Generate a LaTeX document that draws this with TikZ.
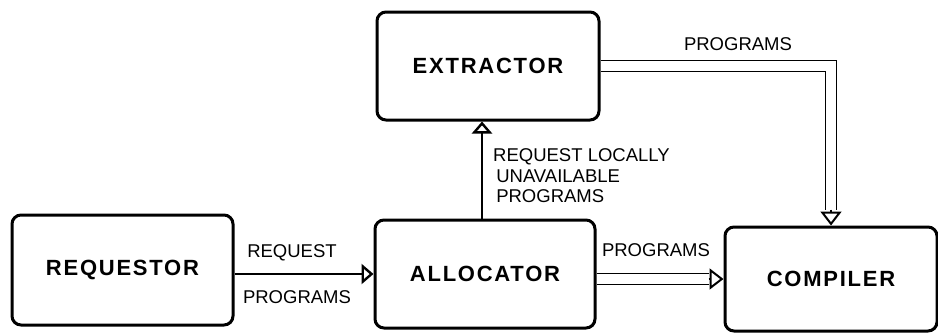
\documentclass[tikz,border=0pt]{standalone}
\usepackage{fontspec}
\setmainfont{Liberation Sans}
\usetikzlibrary{arrows.meta,calc}
\newcommand{\boxfont}{\fontsize{22}{26}\selectfont\bfseries\addfontfeature{LetterSpace=8}}
\newcommand{\lblfont}{\fontsize{18.5}{21}\selectfont}
\tikzset{
  block/.style={draw, line width=3pt, rounded corners=9pt, inner sep=0pt, font=\boxfont},
  lbl/.style={inner sep=0pt, font=\lblfont},
  dbl/.style={double, line width=1.7pt, double distance=9.5pt},
  tip/.style={line width=2pt, -{Triangle[open,length=14pt,width=21pt]}},
  smalltip/.style={line width=2.4pt, -{Triangle[open,length=12pt,width=20pt]}},
}
\begin{document}
\begin{tikzpicture}[x=1pt,y=-1pt]
\useasboundingbox (0,0) rectangle (938,333);
\node[block, minimum width=222pt, minimum height=108pt] (extractor) at (488,66) {EXTRACTOR};
\node[block, minimum width=221pt, minimum height=110pt] (requestor) at (122.5,270) {REQUESTOR};
\node[block, minimum width=220pt, minimum height=108pt] (allocator) at (485,274) {ALLOCATOR};
\node[block, minimum width=212pt, minimum height=104pt] (compiler) at (831,279) {COMPILER};

% requestor -> allocator
\draw[smalltip] (allocator.west -| requestor.east) -- (allocator.west);
\node[lbl] (lreq) at (292,253) {REQUEST};
\node[lbl] (lprog1) at (297,297) {PROGRAMS};

% allocator -> extractor
\draw[smalltip] (allocator.north -| 482,0) -- (extractor.south -| 482,0);
\node[lbl, anchor=west, align=left] (lrlu) at (493,176) {REQUEST LOCALLY\\[-0.5pt]\,UNAVAILABLE\\[-0.5pt]\,PROGRAMS};

% allocator -> compiler
\coordinate (acs) at ($(compiler.west)+(-15,0)$);
\draw[dbl] (compiler.west -| allocator.east) -- (acs);
\draw[tip] (acs) -- (compiler.west);
\node[lbl] (lprog2) at (656,250) {PROGRAMS};

% extractor -> compiler
\coordinate (ecs) at ($(compiler.north)+(0,-16)$);
\draw[dbl] (extractor.east) -| (ecs);
\draw[tip] (ecs) -- (compiler.north);
\node[lbl] (lprog3) at (738,44) {PROGRAMS};
\end{tikzpicture}
\end{document}
